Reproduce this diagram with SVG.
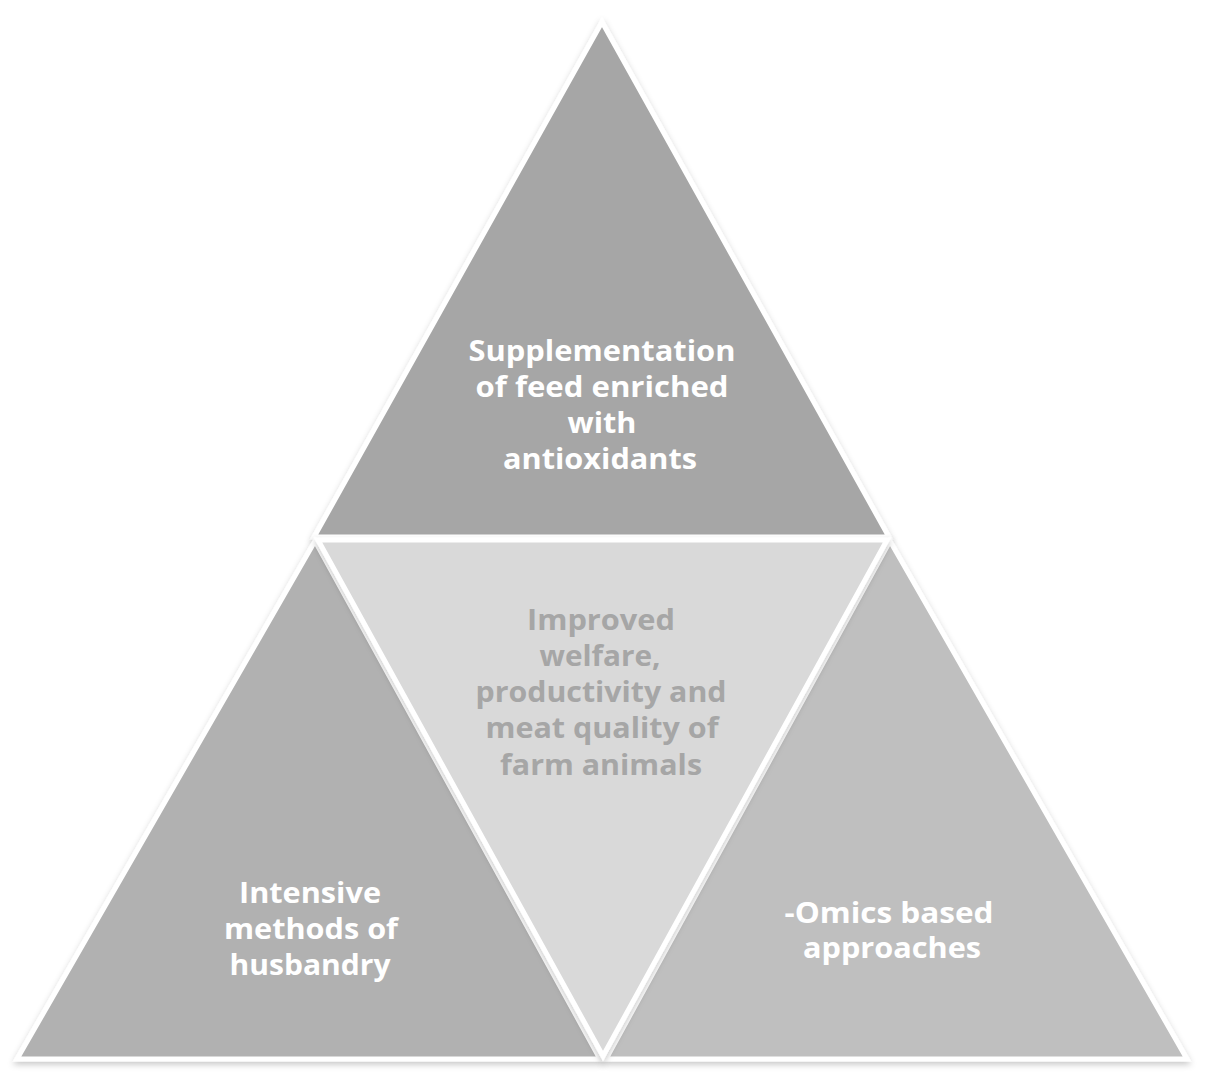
<svg xmlns="http://www.w3.org/2000/svg" width="1205" height="1084" viewBox="0 0 1205 1084">
<defs>
<filter id="sh" x="-10%" y="-10%" width="120%" height="120%">
<feDropShadow dx="0" dy="3" stdDeviation="3" flood-color="#000" flood-opacity="0.22"/>
</filter>
<style>
.tri{stroke:#fff;stroke-width:5;stroke-linejoin:miter;filter:url(#sh)}
.lbl{font-family:"Open Sans","Liberation Sans",sans-serif;font-weight:bold;font-size:28px;text-anchor:middle;fill:#fff}
.mid{fill:#a6a6a6}
</style>
</defs>
<rect width="1205" height="1084" fill="#fff"/>
<g id="top">
<polygon class="tri" points="602,22 314,537 889,537" fill="#a6a6a6"/>
<text class="lbl" x="602" y="361" textLength="267" lengthAdjust="spacingAndGlyphs">Supplementation</text>
<text class="lbl" x="602" y="397" textLength="253" lengthAdjust="spacingAndGlyphs">of feed enriched</text>
<text class="lbl" x="602" y="433" textLength="69" lengthAdjust="spacingAndGlyphs">with</text>
<text class="lbl" x="600" y="469" textLength="194" lengthAdjust="spacingAndGlyphs">antioxidants</text>
</g>
<g id="left">
<polygon class="tri" points="315,541 17,1059 600,1059" fill="#b1b1b1"/>
<text class="lbl" x="310" y="903" textLength="142" lengthAdjust="spacingAndGlyphs">Intensive</text>
<text class="lbl" x="311" y="939" textLength="174" lengthAdjust="spacingAndGlyphs">methods of</text>
<text class="lbl" x="310" y="975" textLength="161" lengthAdjust="spacingAndGlyphs">husbandry</text>
</g>
<g id="right">
<polygon class="tri" points="890,541 606,1059 1187,1059" fill="#bfbfbf"/>
<text class="lbl" x="889" y="923" textLength="209" lengthAdjust="spacingAndGlyphs">-Omics based</text>
<text class="lbl" x="892" y="958" textLength="178" lengthAdjust="spacingAndGlyphs">approaches</text>
</g>
<g id="center">
<polygon class="tri" points="318,540 887,540 603,1056" fill="#d9d9d9"/>
<text class="lbl mid" x="601" y="630" textLength="148" lengthAdjust="spacingAndGlyphs">Improved</text>
<text class="lbl mid" x="600" y="666" textLength="121" lengthAdjust="spacingAndGlyphs">welfare,</text>
<text class="lbl mid" x="601" y="702" textLength="251" lengthAdjust="spacingAndGlyphs">productivity and</text>
<text class="lbl mid" x="602" y="738" textLength="233" lengthAdjust="spacingAndGlyphs">meat quality of</text>
<text class="lbl mid" x="601" y="775" textLength="202" lengthAdjust="spacingAndGlyphs">farm animals</text>
</g>
<g id="connectors"/>
</svg>
